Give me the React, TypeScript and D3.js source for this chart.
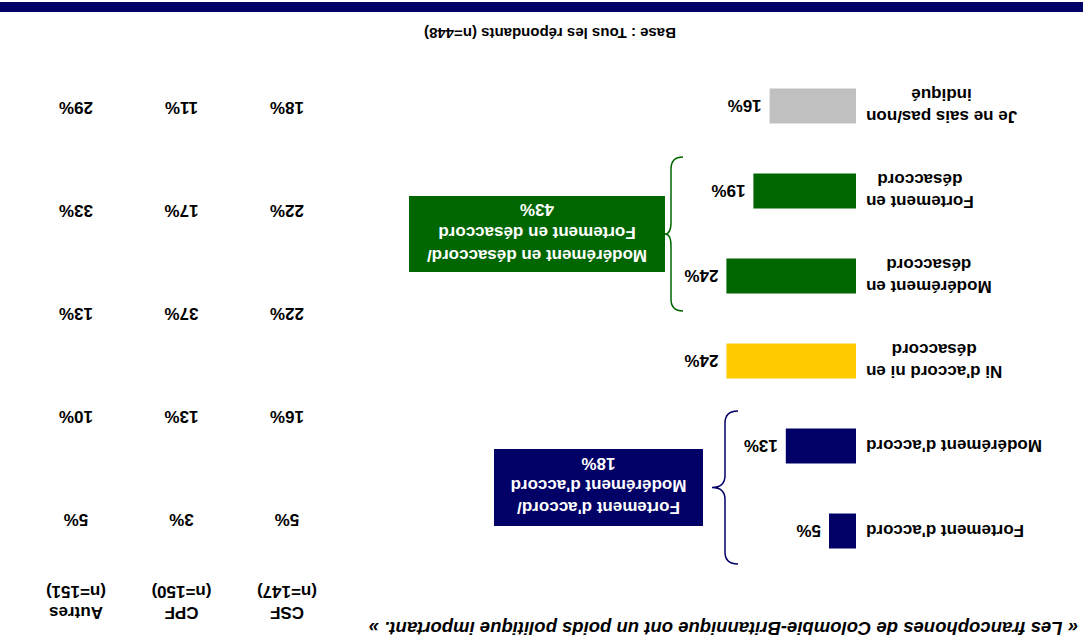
import React from 'react';
import * as d3 from 'd3';

// Chart is shown upside down in the reference, so everything is drawn upright and rotated 180°.
const title = "« Les francophones de Colombie-Britannique ont un poids politique important. »";
const baseNote = "Base : Tous les répondants (n=448)";

const categories = [
    ["Fortement d'accord"],
    ["Modérément d'accord"],
    ["Ni d'accord ni en", "désaccord"],
    ["Modérément en", "désaccord"],
    ["Fortement en", "désaccord"],
    ["Je ne sais pas/non", "indiqué"],
];
const totals = [5, 13, 24, 24, 19, 16];
const barColors = ["#000066", "#000066", "#FFCC00", "#006600", "#006600", "#C0C0C0"];

const groups = ["CSF", "CPF", "Autres"];
const groupN = ["(n=147)", "(n=150)", "(n=151)"];
const groupValues = [
    [5, 3, 5],
    [16, 13, 10],
    [22, 37, 13],
    [22, 17, 33],
    [18, 11, 29],
];

const summaryAgree = ["Fortement d'accord/", "Modérément d'accord", "18%"];
const summaryDisagree = ["Modérément en désaccord/", "Fortement en désaccord", "43%"];

const W = 1086;
const H = 641;
const FONT = "'Liberation Sans', Arial, sans-serif";

let ctx: any = null;
const measure = (s: string, size: number) => {
    if (!ctx) ctx = document.createElement('canvas').getContext('2d');
    ctx.font = `bold ${size}px ${FONT}`;
    return ctx.measureText(s).width;
};

// curly brace opening left, tip pointing right
const brace = (x0: number, xs: number, xt: number, y0: number, y1: number) => {
    const ym = (y0 + y1) / 2;
    const r = 12;
    return `M${x0},${y0} Q${xs},${y0} ${xs},${y0 + r} L${xs},${ym - r} Q${xs},${ym} ${xt},${ym}`
        + ` Q${xs},${ym} ${xs},${ym + r} L${xs},${y1 - r} Q${xs},${y1} ${x0},${y1}`;
};

export default function App() {
    const x = d3.scaleLinear().domain([0, 100]).range([230, 770]);
    const y = d3.scalePoint<number>().domain(d3.range(categories.length)).range([110, 535]);
    const barH = 35;
    const labelRight = 220;
    const lineH = 22;

    const colX = d3.scalePoint<string>().domain(groups).range([799, 1010]);
    const rowY = d3.scalePoint<number>().domain(d3.range(groupValues.length)).range([121, 533]);

    const fs = 17;

    return (
        <svg width={W} height={H} style={{ position: 'absolute', left: 0, top: 0, display: 'block', background: '#fff' }}
            fontFamily={FONT}>
            <g transform={`rotate(180, ${W / 2}, ${H / 2})`}>
                <text x={8} y={13} dy="0.35em" fontSize={18.5} fontWeight="bold" fontStyle="italic">{title}</text>

                {categories.map((lines, i) => {
                    const maxW = d3.max(lines, l => measure(l, fs)) as number;
                    const cx = labelRight - maxW / 2;
                    const top = y(i)! - ((lines.length - 1) * lineH) / 2;
                    return (
                        <g key={i}>
                            {lines.map((l, j) => (
                                <text key={j} x={cx} y={top + j * lineH} dy="0.35em" textAnchor="middle"
                                    fontSize={fs} fontWeight="bold">{l}</text>
                            ))}
                            <rect x={x(0)} y={y(i)! - barH / 2} width={x(totals[i]) - x(0)} height={barH} fill={barColors[i]} />
                            <text x={x(totals[i]) + 8} y={y(i)} dy="0.35em" fontSize={fs} fontWeight="bold">{totals[i]}%</text>
                        </g>
                    );
                })}

                {/* brace + summary box : agree */}
                <path d={brace(348, 361, 374, 77, 230)} fill="none" stroke="#000066" strokeWidth={1.5} />
                <rect x={383} y={115} width={209} height={77} fill="#000066" />
                {summaryAgree.map((l, j) => (
                    <text key={j} x={487.5} y={133 + j * 22} dy="0.35em" textAnchor="middle" fill="#fff"
                        fontSize={fs} fontWeight="bold">{l}</text>
                ))}

                {/* brace + summary box : disagree */}
                <path d={brace(403, 415, 421, 330, 484)} fill="none" stroke="#006600" strokeWidth={1.5} />
                <rect x={421} y={369} width={256} height={76} fill="#006600" />
                {summaryDisagree.map((l, j) => (
                    <text key={j} x={549} y={385 + j * 23} dy="0.35em" textAnchor="middle" fill="#fff"
                        fontSize={fs} fontWeight="bold">{l}</text>
                ))}

                {/* table by group */}
                {groups.map((g, k) => (
                    <g key={g}>
                        <text x={colX(g)} y={28} dy="0.35em" textAnchor="middle" fontSize={fs} fontWeight="bold">{g}</text>
                        <text x={colX(g)} y={49} dy="0.35em" textAnchor="middle" fontSize={fs} fontWeight="bold">{groupN[k]}</text>
                        {groupValues.map((row, r) => (
                            <text key={r} x={colX(g)} y={rowY(r)} dy="0.35em" textAnchor="middle"
                                fontSize={fs} fontWeight="bold">{row[k]}%</text>
                        ))}
                    </g>
                ))}

                <text x={536} y={608} dy="0.35em" textAnchor="middle" fontSize={15} fontWeight="bold">{baseNote}</text>
                <rect x={3} y={629} width={1083} height={10} fill="#000066" />
            </g>
        </svg>
    );
}
